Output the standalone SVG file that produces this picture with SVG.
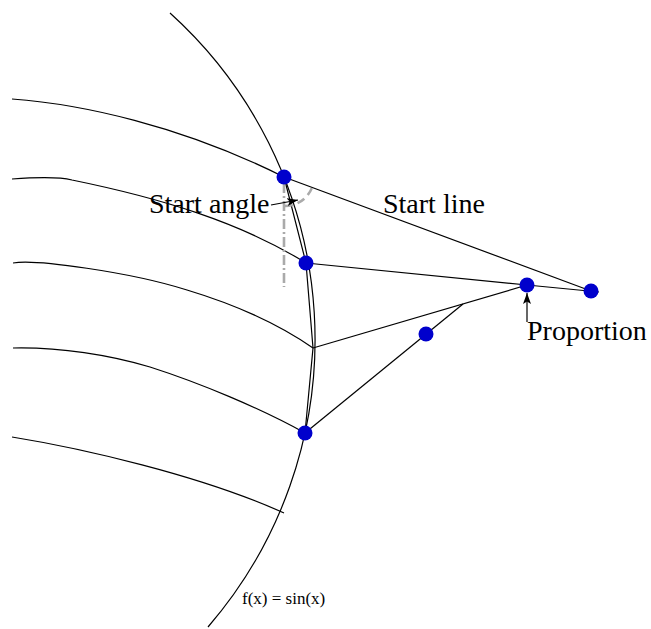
<svg xmlns="http://www.w3.org/2000/svg" width="651" height="629" viewBox="0 0 651 629">
<defs>
<marker id="ah" viewBox="0 0 11 8" refX="11" refY="4" markerWidth="11" markerHeight="8" markerUnits="userSpaceOnUse" orient="auto">
<path d="M0,0 L11,4 L0,8 L2.5,4 Z" fill="#000"/>
</marker>
</defs>
<style>
.ln{fill:none;stroke:#000;stroke-width:1.2}
.gr{fill:none;stroke:#aaaaaa;stroke-width:2.6}
.dot{fill:#0000cc}
.lbl{font-family:"Liberation Serif","Times New Roman",serif;fill:#000}
</style>
<rect width="651" height="629" fill="#fff"/>
<g id="connectors">
<path class="ln" d="M170,13 A439.8,439.8 0 0 1 208,627"/>
<path class="ln" d="M12,99 C80,104 180,125 284,177"/>
<path class="ln" d="M12,179 C40,177 60,177 72,180 C160,198 240,222 306,263"/>
<path class="ln" d="M13,263 C35,259 130,272 187,290 C240,306 280,325 313,348"/>
<path class="ln" d="M13,348 C60,347 110,355 150,367 C200,383 260,408 305,433"/>
<path class="ln" d="M12,437 C80,448 200,475 284,513"/>
<polyline class="ln" points="284,177 306,263 313,348 305,433"/>
<line class="ln" x1="284" y1="177" x2="591" y2="291"/>
<line class="ln" x1="306" y1="263" x2="527" y2="285"/>
<line class="ln" x1="313" y1="348" x2="527" y2="285"/>
<line class="ln" x1="527" y1="285" x2="599" y2="292"/>
<line class="ln" x1="305" y1="433" x2="463" y2="304"/>
<path class="gr" d="M285,206 A29,29 0 0 0 312.3,186.9" stroke-dasharray="8,5"/>
<line class="gr" x1="284" y1="183" x2="284" y2="287" stroke-dasharray="10,3,2,3"/>
<line class="ln" x1="271" y1="205" x2="298" y2="200" marker-end="url(#ah)"/>
<line class="ln" x1="527" y1="322" x2="527" y2="293" marker-end="url(#ah)"/>
</g>
<g id="n1"><circle class="dot" cx="284" cy="177" r="7.5"/></g>
<g id="n2"><circle class="dot" cx="306" cy="263" r="7.5"/></g>
<g id="n3"><circle class="dot" cx="527" cy="285" r="7.5"/></g>
<g id="n4"><circle class="dot" cx="591" cy="291" r="7.5"/></g>
<g id="n5"><circle class="dot" cx="426" cy="334" r="7.5"/></g>
<g id="n6"><circle class="dot" cx="305" cy="433" r="7.5"/></g>
<g id="labels">
<text class="lbl" x="149" y="213" font-size="28">Start angle</text>
<text class="lbl" x="383" y="213" font-size="28">Start line</text>
<text class="lbl" x="527" y="340" font-size="28">Proportion</text>
<text class="lbl" x="242" y="604" font-size="17">f(x) = sin(x)</text>
</g>
</svg>
